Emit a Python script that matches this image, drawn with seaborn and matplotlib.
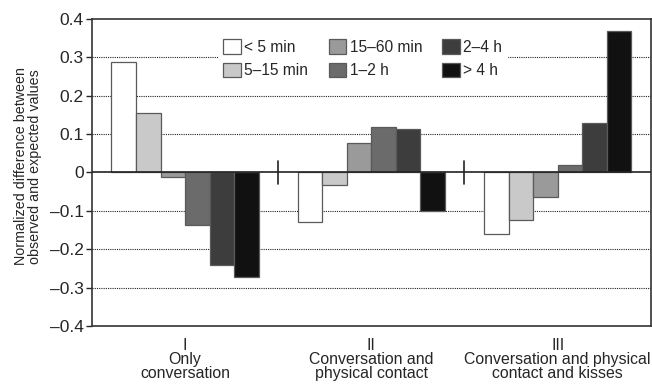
import numpy as np
import pandas as pd
import seaborn as sns
import matplotlib.pyplot as plt
from matplotlib.ticker import FuncFormatter

# data
groups = ["I\nOnly\nconversation",
          "II\nConversation and\nphysical contact",
          "III\nConversation and physical\ncontact and kisses"]
durations = ["< 5 min", "5\u201315 min", "15\u201360 min", "1\u20132 h", "2\u20134 h", "> 4 h"]
only_conv = [0.288, 0.154, -0.012, -0.138, -0.241, -0.271]
conv_contact = [-0.130, -0.032, 0.077, 0.119, 0.114, -0.100]
conv_kisses = [-0.161, -0.124, -0.063, 0.019, 0.128, 0.368]
colors = ["#ffffff", "#c9c9c9", "#9a9a9a", "#6b6b6b", "#3d3d3d", "#111111"]

rows = []
for g, vals in zip(groups, [only_conv, conv_contact, conv_kisses]):
    for d, v in zip(durations, vals):
        rows.append({"group": g, "duration": d, "value": v})
df = pd.DataFrame(rows)

sns.set_style("white")
plt.rcParams.update({"font.family": ["Liberation Sans", "DejaVu Sans"], "font.size": 11})

fig = plt.figure(figsize=(6.52, 3.85), dpi=100)
ax = fig.add_axes([0.141, 0.153, 0.857, 0.798])

# dotted grid
for y in [-0.3, -0.2, -0.1, 0.1, 0.2, 0.3]:
    ax.axhline(y, color="#222222", linestyle=(0, (1, 1)), linewidth=0.8, zorder=0)

sns.barplot(data=df, x="group", y="value", hue="duration", hue_order=durations,
            palette=colors, edgecolor="#5a5a5a", linewidth=0.9, width=0.79,
            saturation=1, ax=ax, zorder=2)

ax.axhline(0, color="#222222", linewidth=1.2, zorder=3)
for xs in [0.5, 1.5]:
    ax.plot([xs, xs], [-0.03, 0.03], color="#222222", linewidth=1.2, zorder=3)

ax.set_ylim(-0.4, 0.4)
ax.set_xlim(-0.5, 2.5)
ax.set_yticks(np.arange(-0.4, 0.41, 0.1))
ax.yaxis.set_major_formatter(FuncFormatter(
    lambda v, p: "0" if abs(v) < 1e-9 else f"{v:.1f}".replace("-", "\u2013")))
ax.tick_params(axis="y", left=True, length=4, width=1, labelsize=12.5, pad=2)
ax.tick_params(axis="x", bottom=False, labelsize=11.4, pad=5)
for lab in ax.get_xticklabels():
    lab.set_linespacing(0.92)
ax.set_xlabel("")
ax.set_ylabel("Normalized difference between\nobserved and expected values", fontsize=10.3,
              linespacing=0.95)
ax.yaxis.set_label_coords(-0.09, 0.52)
for s in ax.spines.values():
    s.set_color("#333333")
    s.set_linewidth(1.2)

leg = ax.legend(ncol=3, loc="upper left", bbox_to_anchor=(0.213, 0.975),
                frameon=True, framealpha=1, edgecolor="white", fancybox=False,
                handlelength=1.1, handleheight=1.1, handletextpad=0.25,
                columnspacing=1.3, labelspacing=0.5, fontsize=11.2, borderpad=0.3)
leg.set_zorder(5)
for h in leg.legend_handles:
    h.set_edgecolor("#5a5a5a")

fig.savefig("out.png", dpi=100)
